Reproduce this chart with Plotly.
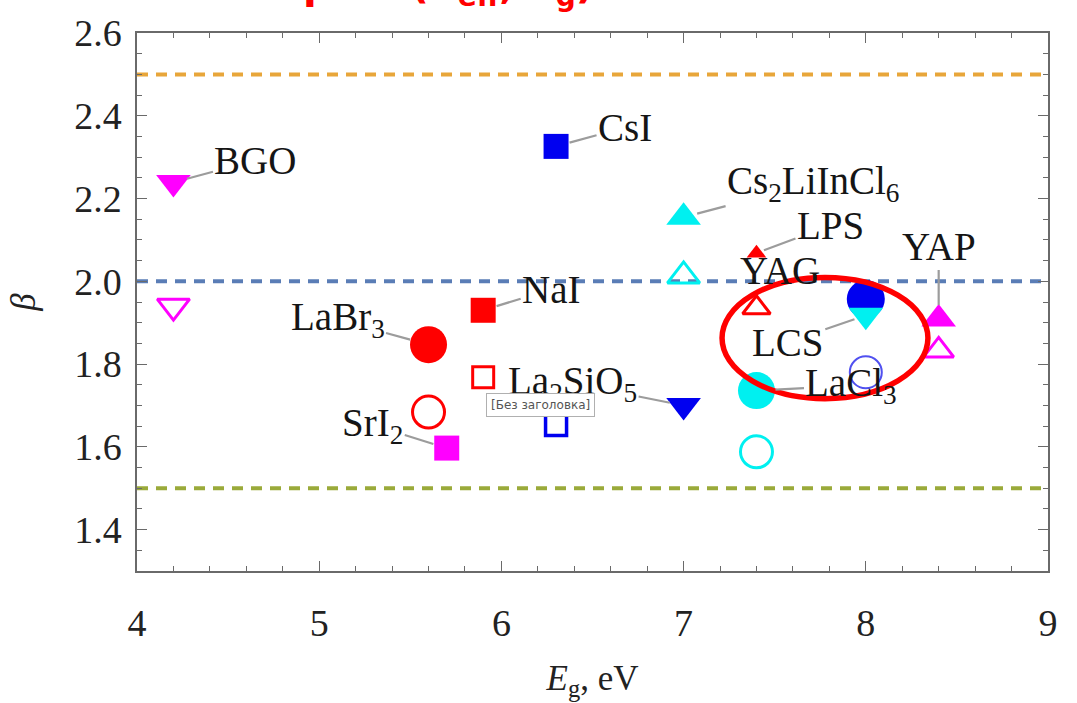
import plotly.graph_objects as go

# ---------------- data ----------------
# filled markers
f_names = ["BGO", "CsI", "Cs2LiInCl6", "LPS", "NaI", "LaBr3", "La2SiO5", "SrI2", "LaCl3", "X8", "LCS", "YAP"]
f_eg    = [4.2,   6.3,   7.0,          7.4,   5.9,   5.6,     7.0,       5.7,    7.4,     8.0,  8.0,   8.4]
f_beta  = [2.239, 2.326, 2.155,        2.068, 1.930, 1.847,   1.700,     1.597,  1.736,   1.957, 1.918, 1.909]

# open markers
o_names = ["BGO", "CsI", "Cs2LiInCl6", "YAG", "NaI", "LaBr3", "LaCl3", "X8", "YAP"]
o_eg    = [4.2,   6.3,   7.0,          7.4,   5.9,   5.6,     7.4,     8.0,  8.4]
o_beta  = [1.940, 1.653, 2.013,        1.936, 1.768, 1.684,   1.588,   1.780, 1.833]

# reference levels
ref_levels = [2.5, 2.0, 1.5]

# tick values
y_ticks = [1.4, 1.6, 1.8, 2.0, 2.2, 2.4, 2.6]
y_ticktext = ["1.4", "1.6", "1.8", "2.0", "2.2", "2.4", "2.6"]
x_ticks = [4, 5, 6, 7, 8, 9]
x_ticktext = ["4", "5", "6", "7", "8", "9"]

# ---------------- styles ----------------
MAG, BLU, RED, CYA = "#ff00ff", "#0000f0", "#ff0000", "#00f0f0"
f_symbol = ["triangle-down", "square", "triangle-up", "triangle-up", "square", "circle",
            "triangle-down", "square", "circle", "circle", "triangle-down", "triangle-up"]
f_color = [MAG, BLU, CYA, RED, RED, RED, BLU, MAG, CYA, BLU, CYA, MAG]
f_size = [30, 25, 30, 17, 25, 37, 30, 25, 37, 38, 30, 30]

o_symbol = ["triangle-down-open", "square-open", "triangle-up-open", "triangle-up-open", "square-open",
            "circle-open", "circle-open", "circle-open", "triangle-up-open"]
o_color = [MAG, BLU, CYA, RED, RED, RED, CYA, "#5050f0", MAG]
o_size = [28, 21, 28, 24, 21, 32, 32, 32, 26]
o_width = [3, 3.5, 3, 3, 3, 3, 3, 2, 3]

ref_colors = ["#e8a63a", "#5a7db6", "#9aaa3a"]

SERIF = "Liberation Serif, Times New Roman, serif"
TICKFONT = dict(family=SERIF, size=38, color="#222222")

fig = go.Figure()

for lv, c in zip(ref_levels, ref_colors):
    fig.add_shape(type="line", xref="paper", x0=0, x1=1, yref="y", y0=lv, y1=lv,
                  line=dict(color=c, width=4, dash="11px,8px"), layer="below")

for i in range(len(o_names)):
    fig.add_trace(go.Scatter(x=[o_eg[i]], y=[o_beta[i]], mode="markers", showlegend=False,
                             hoverinfo="skip",
                             marker=dict(symbol=o_symbol[i], size=o_size[i], color=o_color[i],
                                         line=dict(color=o_color[i], width=o_width[i]))))
for i in range(len(f_names)):
    fig.add_trace(go.Scatter(x=[f_eg[i]], y=[f_beta[i]], mode="markers", showlegend=False,
                             hoverinfo="skip",
                             marker=dict(symbol=f_symbol[i], size=f_size[i], color=f_color[i],
                                         line=dict(width=0))))

# ---------------- labels ----------------
# (label text, anchor material, dx px, dy px, standoff)
labels = [
    ("BGO", "BGO", 82, -22, 14),
    ("CsI", "CsI", 69, -19, 14),
    ("Cs<sub>2</sub>LiInCl<sub>6</sub>", "Cs2LiInCl6", 130, -34, 14),
    ("LPS", "LPS", 74, -28, 8),
    ("YAP", "YAP", 0, -72, 14),
    ("LCS", "LCS", -78, 27, 12),
    ("LaCl<sub>3</sub>", "LaCl3", 95, -5, 19),
    ("NaI", "NaI", 68, -21, 14),
    ("LaBr<sub>3</sub>", "LaBr3", -91, -25, 19),
    ("La<sub>2</sub>SiO<sub>5</sub>", "La2SiO5", -111, -22, 14),
    ("SrI<sub>2</sub>", "SrI2", -74, -23, 14),
]
for txt, mat, dx, dy, so in labels:
    k = f_names.index(mat)
    fig.add_annotation(x=f_eg[k], y=f_beta[k], xref="x", yref="y", text=txt,
                       showarrow=True, arrowhead=0, arrowwidth=2.2, arrowcolor="#9c9c9c",
                       ax=dx, ay=dy, standoff=so,
                       font=dict(family=SERIF, size=39, color="#151515"))

# YAG label without leader
k = o_names.index("YAG")
fig.add_annotation(x=o_eg[k], y=o_beta[k], xref="x", yref="y", text="YAG", showarrow=False,
                   xshift=24, yshift=37, font=dict(family=SERIF, size=39, color="#151515"))

# red ellipse highlight
fig.add_shape(type="circle", xref="x", yref="y", x0=7.211, x1=8.341, y0=1.7165, y1=2.0095,
              line=dict(color="#ff0000", width=5.5), layer="above")

# screenshot tooltip box
fig.add_annotation(x=6.212, y=1.700, xref="x", yref="y", text="[Без заголовка]", showarrow=False,
                   font=dict(family="DejaVu Sans", size=12, color="#555555"),
                   bgcolor="white", bordercolor="#b0b0b0", borderwidth=1, borderpad=4)

# clipped red title at top
fig.add_annotation(xref="paper", yref="paper", x=0.18, y=1, xanchor="left", yanchor="bottom",
                   yshift=18, showarrow=False,
                   text="<b>β = f(Z<sub>eff</sub>, E<sub>g</sub>)</b>",
                   font=dict(family="DejaVu Sans", size=40, color="#ff0000"))

fig.update_layout(
    width=1077, height=703,
    margin=dict(l=137, r=29, t=22, b=117),
    paper_bgcolor="white", plot_bgcolor="white",
    font=dict(family=SERIF, color="#222222"),
    xaxis=dict(range=[4, 9], tickmode="array", tickvals=x_ticks, ticktext=x_ticktext,
               tickfont=TICKFONT, ticklabelstandoff=18,
               showgrid=False, zeroline=False, showline=True, linecolor="#6a6a6a", linewidth=1.5,
               mirror="ticks", ticks="inside", tickcolor="#6a6a6a", tickwidth=1.3, ticklen=10,
               minor=dict(ticks="inside", dtick=0.2, ticklen=5, tickcolor="#6a6a6a", tickwidth=1),
               title=dict(text="<i>E</i><sub>g</sub>, eV", standoff=22,
                          font=dict(family=SERIF, size=35, color="#222222"))),
    yaxis=dict(range=[1.3, 2.6], tickmode="array", tickvals=y_ticks, ticktext=y_ticktext,
               tickfont=TICKFONT, ticklabelstandoff=6,
               showgrid=False, zeroline=False, showline=True, linecolor="#6a6a6a", linewidth=1.5,
               mirror="ticks", ticks="inside", tickcolor="#6a6a6a", tickwidth=1.3, ticklen=10,
               minor=dict(ticks="inside", dtick=0.05, ticklen=5, tickcolor="#6a6a6a", tickwidth=1),
               title=dict(text="<i>β</i>", standoff=28,
                          font=dict(family=SERIF, size=35, color="#222222"))),
)

fig.write_html("out.html")
